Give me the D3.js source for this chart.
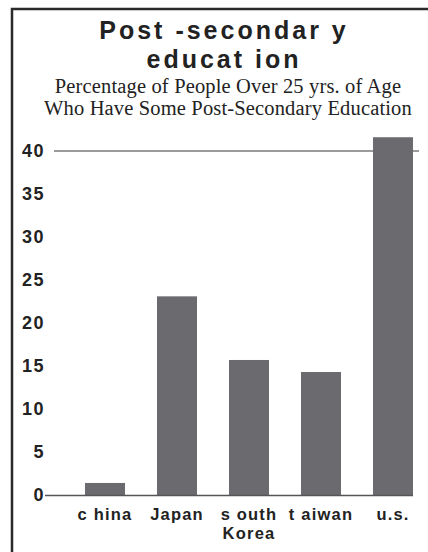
<!DOCTYPE html>
<html><head><meta charset="utf-8">
<script src="https://cdn.jsdelivr.net/npm/d3@7/dist/d3.min.js"></script>
<style>
html,body{margin:0;padding:0;background:#fff;}
svg{display:block;}
</style></head>
<body><svg id="chart" width="428" height="552"></svg>
<script>
const categories = ["c hina", "Japan", "s outh|Korea", "t aiwan", "u.s."];
const values = [1.4, 23.1, 15.7, 14.3, 41.6];
const tickValues = [0, 5, 10, 15, 20, 25, 30, 35, 40];
const titleLines = ["Post -secondar y", "educat ion"];
const subtitleLines = ["Percentage of People Over 25 yrs. of Age", "Who Have Some Post-Secondary Education"];

const svg = d3.select("#chart");
const W = 428, H = 552;
const textColor = "#222";
const barColor = "#6b6b6f";

// frame (cut off at right and bottom)
svg.append("path")
  .attr("d", `M12,${H+5} L12,9 L${W+5},9`)
  .attr("fill", "none").attr("stroke", "#2a2a2a").attr("stroke-width", 2.5);

// title
svg.append("g").selectAll("text").data(titleLines).join("text")
  .attr("x", 224).attr("y", (d, i) => 39 + i * 29)
  .attr("text-anchor", "middle")
  .attr("font-family", "Liberation Sans, Arial, sans-serif")
  .attr("font-weight", "bold").attr("font-size", 25)
  .attr("letter-spacing", 3)
  .attr("fill", textColor)
  .text(d => d);

svg.append("g").selectAll("text").data(subtitleLines).join("text")
  .attr("x", 228).attr("y", (d, i) => 93 + i * 22)
  .attr("text-anchor", "middle")
  .attr("font-family", "Liberation Serif, Times New Roman, serif")
  .attr("font-size", 20.5)
  .attr("letter-spacing", 0.15)
  .attr("fill", textColor)
  .text(d => d);

const x = d3.scaleBand().domain(categories).range([69, 429]).paddingInner(0.444).paddingOuter(0.222);
const y = d3.scaleLinear().domain([0, 40]).range([495, 151]);

// gridline at 40
svg.append("line")
  .attr("x1", 54).attr("x2", 419)
  .attr("y1", y(40)).attr("y2", y(40))
  .attr("stroke", "#7a7a7a").attr("stroke-width", 1.3);

// y axis labels
const yAxis = d3.axisLeft(y).tickValues(tickValues).tickSize(0).tickPadding(0);
const gy = svg.append("g").attr("transform", "translate(45,0)").call(yAxis);
gy.select(".domain").remove();
gy.selectAll("text")
  .attr("font-family", "Liberation Sans, Arial, sans-serif")
  .attr("font-weight", "bold").attr("font-size", 18)
  .attr("letter-spacing", 1.5)
  .attr("fill", textColor).attr("dy", "0.3em");

// bars
svg.append("g").selectAll("rect").data(values).join("rect")
  .attr("x", (d, i) => x(categories[i]))
  .attr("width", x.bandwidth())
  .attr("y", d => y(d))
  .attr("height", d => y(0) - y(d))
  .attr("fill", barColor);

// baseline
svg.append("line")
  .attr("x1", 45).attr("x2", 413)
  .attr("y1", y(0) + 0.5).attr("y2", y(0) + 0.5)
  .attr("stroke", "#555").attr("stroke-width", 1.3);

// x labels
const xl = svg.append("g").selectAll("text").data(categories).join("text")
  .attr("x", d => x(d) + x.bandwidth() / 2)
  .attr("y", 520)
  .attr("text-anchor", "middle")
  .attr("font-family", "Liberation Sans, Arial, sans-serif")
  .attr("font-weight", "bold").attr("font-size", 16.5)
  .attr("letter-spacing", 1.2)
  .attr("fill", textColor);
xl.each(function(d) {
  const parts = d.split("|");
  d3.select(this).selectAll("tspan").data(parts).join("tspan")
    .attr("x", x(d) + x.bandwidth() / 2)
    .attr("dy", (p, i) => i === 0 ? 0 : 18.5)
    .text(p => p);
});
</script></body></html>
